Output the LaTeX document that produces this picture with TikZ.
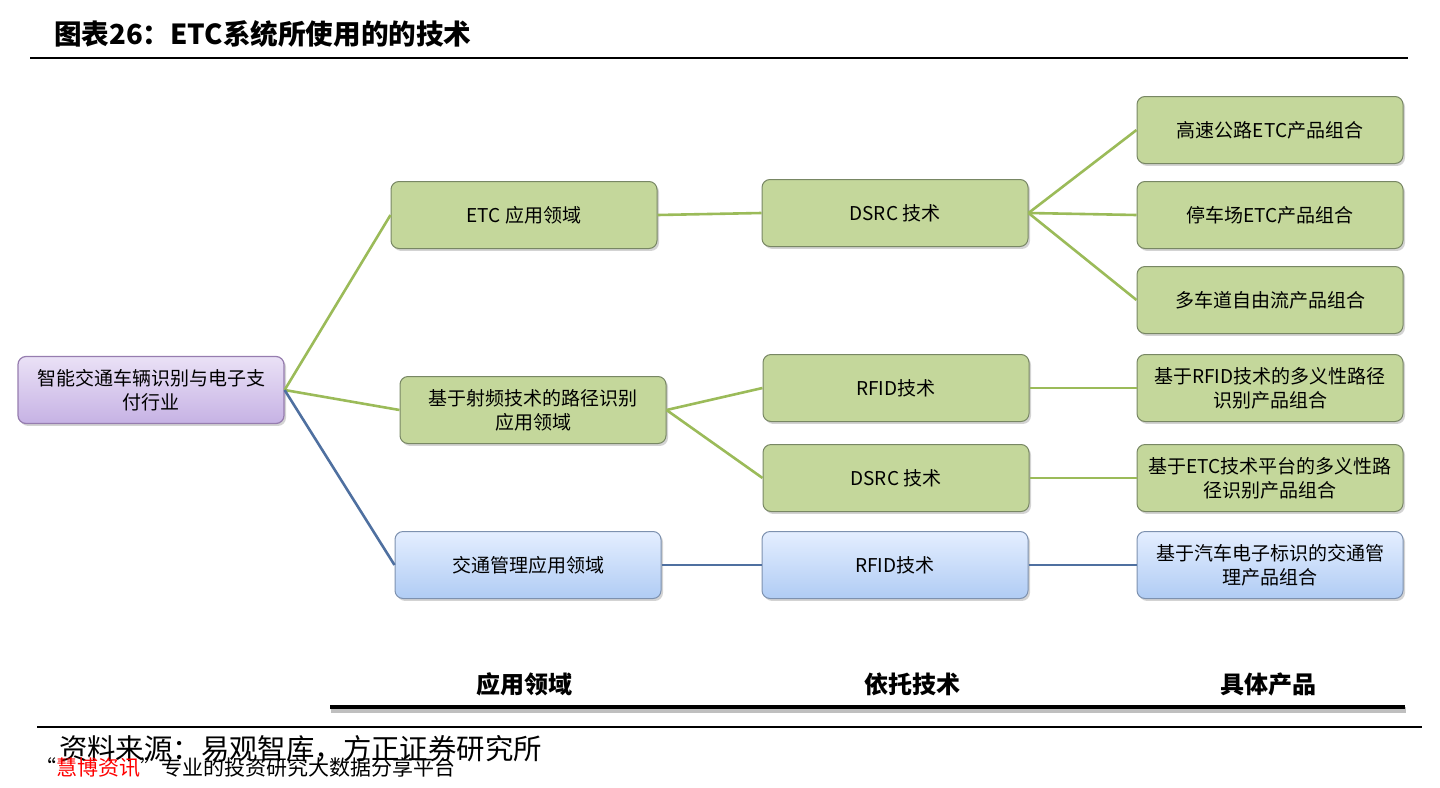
\documentclass[tikz,border=0pt]{standalone}
\usepackage{fontspec}
\setmainfont{Noto Sans CJK SC}
\usetikzlibrary{shadows}
\definecolor{leafgreen}{RGB}{196,215,155}
\definecolor{leafedge}{RGB}{120,135,100}
\definecolor{linkgreen}{RGB}{155,187,89}
\definecolor{linkblue}{RGB}{79,112,160}
\definecolor{rootedge}{RGB}{150,125,175}
\definecolor{roottop}{RGB}{234,225,246}
\definecolor{rootbottom}{RGB}{198,178,228}
\definecolor{blueedge}{RGB}{125,145,175}
\definecolor{bluetop}{RGB}{228,238,255}
\definecolor{bluebottom}{RGB}{176,204,244}

\tikzset{
  box/.style={rounded corners=4pt, minimum width=133pt, minimum height=33.5pt,
    align=center, inner sep=1pt, font=\fontsize{9.5}{12}\selectfont,
    drop shadow={opacity=0.35, shadow xshift=1pt, shadow yshift=-1.2pt}},
  greenbox/.style={box, fill=leafgreen, draw=leafedge, line width=0.5pt},
  bluebox/.style={box, draw=blueedge, line width=0.5pt,
    top color=bluetop, bottom color=bluebottom},
  rootbox/.style={box, draw=rootedge, line width=0.6pt,
    top color=roottop, bottom color=rootbottom},
  glink/.style={draw=linkgreen, line width=1.3pt},
  blink/.style={draw=linkblue, line width=1.3pt},
  colhead/.style={font=\fontsize{12}{14}\selectfont\bfseries}
}

\begin{document}
\begin{tikzpicture}[x=0.5pt,y=-0.5pt]
\useasboundingbox (0,0) rectangle (1440,787);

% title
\node[anchor=west, font=\fontsize{13.8}{15}\selectfont\bfseries] (title) at (47,34) {图表26：ETC系统所使用的的技术};
\draw[line width=0.6pt] (30,58) -- (1408,58);

% root
\node[rootbox] (root) at (151,390) {智能交通车辆识别与电子支\\付行业};

% application fields
\node[greenbox] (etcfield) at (524,215) {ETC 应用领域};
\node[greenbox] (rffield) at (533,410) {基于射频技术的路径识别\\应用领域};
\node[bluebox] (trfield) at (528,565) {交通管理应用领域};

% technologies
\node[greenbox] (dsrcA) at (895,213) {DSRC 技术};
\node[greenbox] (rfidA) at (896,388) {RFID技术};
\node[greenbox] (dsrcB) at (896,478) {DSRC 技术};
\node[bluebox] (rfidB) at (895,565) {RFID技术};

% products
\node[greenbox] (prodA) at (1270,130) {高速公路ETC产品组合};
\node[greenbox] (prodB) at (1270,215) {停车场ETC产品组合};
\node[greenbox] (prodC) at (1270,300) {多车道自由流产品组合};
\node[greenbox] (prodD) at (1270,388) {基于RFID技术的多义性路径\\识别产品组合};
\node[greenbox] (prodE) at (1270,478) {基于ETC技术平台的多义性路\\径识别产品组合};
\node[bluebox] (prodF) at (1270,565) {基于汽车电子标识的交通管\\理产品组合};

% links
\draw[glink] (root.east) -- (etcfield.west);
\draw[glink] (root.east) -- (rffield.west);
\draw[blink] (root.east) -- (trfield.west);
\draw[glink] (etcfield.east) -- (dsrcA.west);
\draw[glink] (rffield.east) -- (rfidA.west);
\draw[glink] (rffield.east) -- (dsrcB.west);
\draw[blink] (trfield.east) -- (rfidB.west);
\foreach \p in {prodA,prodB,prodC}
  \draw[glink] (dsrcA.east) -- (\p.west);
\draw[glink] (rfidA.east) -- (prodD.west);
\draw[glink] (dsrcB.east) -- (prodE.west);
\draw[blink] (rfidB.east) -- (prodF.west);

% column heads
\node[colhead] (headA) at (524,684) {应用领域};
\node[colhead] (headB) at (912,684) {依托技术};
\node[colhead] (headC) at (1268,684) {具体产品};
\draw[line width=3pt, black!25] (331,710) -- (1406,710);
\draw[line width=2.2pt] (330,707) -- (1405,707);

% source
\draw[line width=0.6pt] (37,727) -- (1422,727);
\node[anchor=west, font=\fontsize{14.2}{15}\selectfont] (source) at (52,749) {资料来源：易观智库，方正证券研究所};
\node[anchor=west, font=\fontsize{10.5}{12}\selectfont] (mark) at (28,768) {“\textcolor{red}{慧博资讯}”专业的投资研究大数据分享平台};
\end{tikzpicture}
\end{document}
